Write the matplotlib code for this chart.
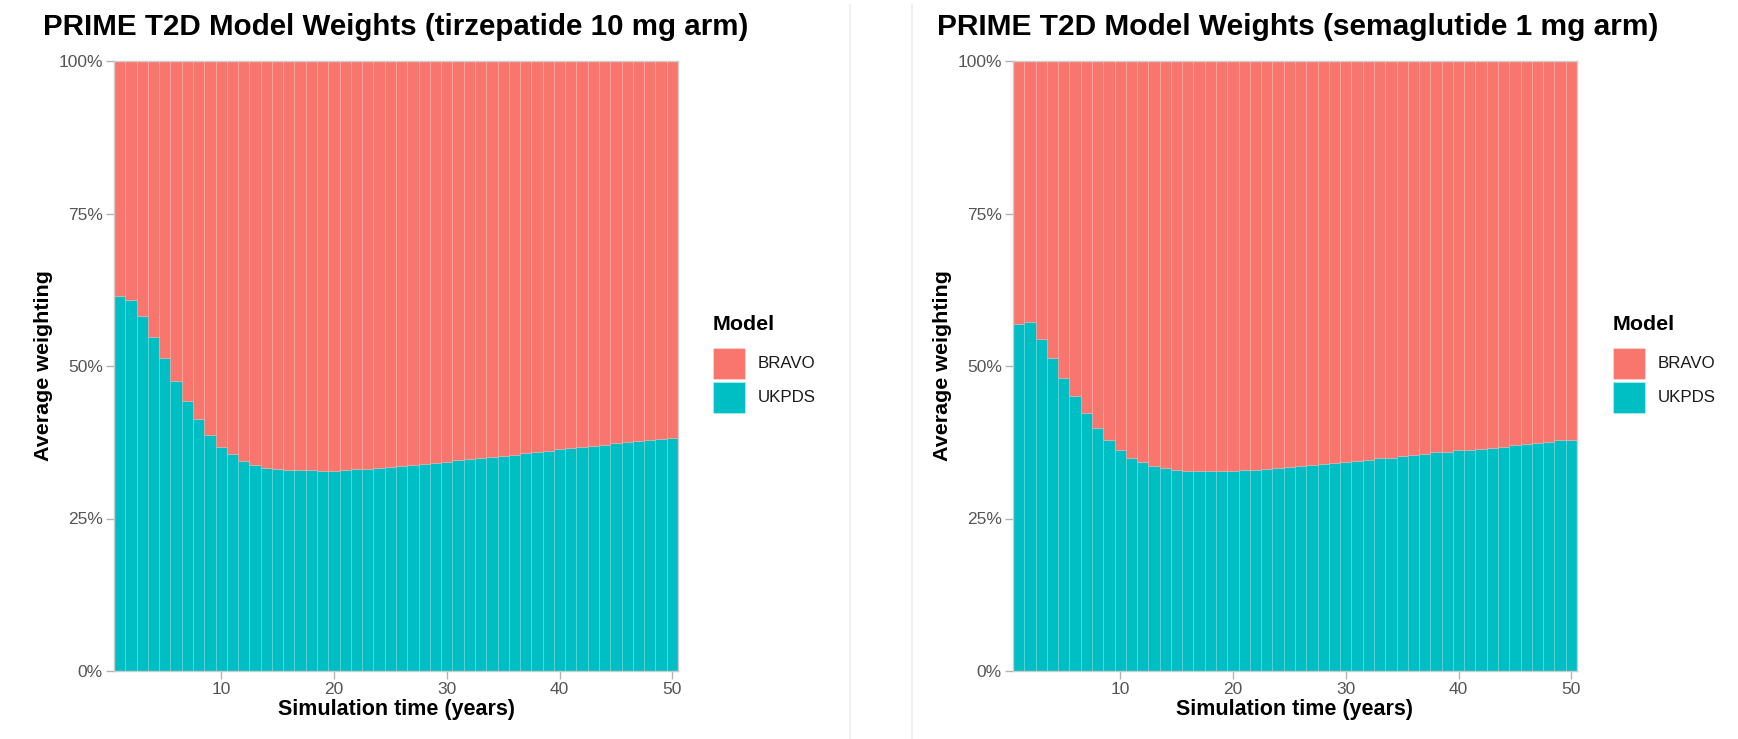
import matplotlib
matplotlib.use("Agg")
import matplotlib.pyplot as plt
from matplotlib.patches import Rectangle
from matplotlib.lines import Line2D

# ---------------- data ----------------
years = list(range(1, 51))

ukpds_tirzepatide = [
    0.614, 0.608, 0.582, 0.548, 0.513, 0.476, 0.442, 0.413, 0.387, 0.368,
    0.355, 0.345, 0.338, 0.333, 0.331, 0.330, 0.329, 0.329, 0.328, 0.328,
    0.3295, 0.3306, 0.3317, 0.3328, 0.3339, 0.3355, 0.3372, 0.3388, 0.3405, 0.3426,
    0.3453, 0.347, 0.349, 0.3503, 0.3525, 0.3546, 0.3568, 0.359, 0.3607, 0.3634,
    0.3656, 0.3667, 0.3689, 0.371, 0.3738, 0.3754, 0.377, 0.3787, 0.3803, 0.382,
]
ukpds_semaglutide = [
    0.569, 0.572, 0.544, 0.513, 0.481, 0.451, 0.4235, 0.399, 0.378, 0.362,
    0.350, 0.342, 0.336, 0.332, 0.330, 0.3284, 0.3273, 0.3273, 0.3273, 0.3284,
    0.329, 0.330, 0.3311, 0.3328, 0.3339, 0.3355, 0.3372, 0.3388, 0.3405, 0.3426,
    0.3443, 0.3464, 0.3486, 0.3497, 0.352, 0.3541, 0.3563, 0.3585, 0.3596, 0.3618,
    0.3628, 0.3645, 0.3661, 0.3678, 0.3705, 0.3727, 0.3732, 0.3754, 0.3781, 0.3792,
]

models = ["BRAVO", "UKPDS"]
model_colors = {"BRAVO": "#F8766D", "UKPDS": "#00BFC4"}
titles = [
    "PRIME T2D Model Weights (tirzepatide 10 mg arm)",
    "PRIME T2D Model Weights (semaglutide 1 mg arm)",
]
xlabel = "Simulation time (years)"
ylabel = "Average weighting"
legend_title = "Model"
xtick_vals = [10, 20, 30, 40, 50]
ytick_vals = [0, 0.25, 0.5, 0.75, 1.0]
ytick_labels = ["0%", "25%", "50%", "75%", "100%"]

# ---------------- layout ----------------
W, H = 1738, 739
fig = plt.figure(figsize=(W / 100, H / 100), dpi=100)
renderer = fig.canvas.get_renderer()
FAM = ["Liberation Sans", "DejaVu Sans"]


def fx(px):
    return px / W


def fy(py):
    return 1 - py / H


def fit_text(x, y, s, target, ha="left", va="center", weight="normal",
             rotation=0, color="black"):
    t = fig.text(fx(x), fy(y), s, ha=ha, va=va, fontweight=weight,
                 rotation=rotation, color=color, family=FAM, fontsize=10)
    bb = t.get_window_extent(renderer=renderer)
    size = bb.height if rotation == 90 else bb.width
    t.set_fontsize(10 * target / size)
    return t


panels = [
    dict(box=(114, 61, 678, 671), ukpds=ukpds_tirzepatide, title=titles[0],
         title_x=43, title_w=705, ylab_x=44, leg_x=713),
    dict(box=(1013, 61, 1577, 671), ukpds=ukpds_semaglutide, title=titles[1],
         title_x=937, title_w=722, ylab_x=942, leg_x=1613),
]

for p in panels:
    l, t, r, b = p["box"]
    ax = fig.add_axes([fx(l), fy(b), (r - l) / W, (b - t) / H])
    uk = p["ukpds"]
    br = [1 - v for v in uk]
    edge = (1, 1, 1, 0.10)
    ax.bar(years, uk, width=1.0, color=model_colors["UKPDS"],
           edgecolor=edge, linewidth=0.6)
    ax.bar(years, br, bottom=uk, width=1.0, color=model_colors["BRAVO"],
           edgecolor=edge, linewidth=0.6)
    ax.set_xlim(0.5, 50.5)
    ax.set_ylim(0, 1)
    ax.set_xticks(xtick_vals)
    ax.set_xticklabels([str(v) for v in xtick_vals])
    ax.set_yticks(ytick_vals)
    ax.set_yticklabels(ytick_labels)
    ax.tick_params(direction="out", length=6, width=1, color="#b3b3b3",
                   labelcolor="#555555", labelsize=12.5, pad=2)
    for lab in ax.get_xticklabels() + ax.get_yticklabels():
        lab.set_family(FAM)
    for sp in ax.spines.values():
        sp.set_color("#cccccc")
        sp.set_linewidth(1.0)

    # title
    fit_text(p["title_x"], 35, p["title"], p["title_w"], ha="left",
             va="baseline", weight="bold")
    # axis labels
    fit_text((l + r) / 2, 709, xlabel, 237, ha="center", va="center",
             weight="bold")
    fit_text(p["ylab_x"], (t + b) / 2, ylabel, 191, ha="center", va="center",
             weight="bold", rotation=90)

    # legend
    lx = p["leg_x"]
    fit_text(lx, 325, legend_title, 62, ha="left", va="center", weight="bold")
    key_tops = [348, 382]
    for m, kt in zip(models, key_tops):
        fig.patches.append(Rectangle((fx(lx), fy(kt + 31)), 32 / W, 31 / H,
                                     transform=fig.transFigure,
                                     facecolor=model_colors[m],
                                     edgecolor=(1, 1, 1, 0.3), linewidth=0.8))
        fig.text(fx(lx + 45), fy(kt + 15.5), m, ha="left", va="center",
                 fontsize=12.2, color="#1a1a1a", family=FAM)

# faint screenshot frame lines
for xv in (850, 912):
    fig.lines.append(Line2D([fx(xv), fx(xv)], [fy(5), fy(739)],
                            transform=fig.transFigure, color="#ececec",
                            linewidth=1.2))

fig.savefig("out.png", dpi=100, facecolor="white")
